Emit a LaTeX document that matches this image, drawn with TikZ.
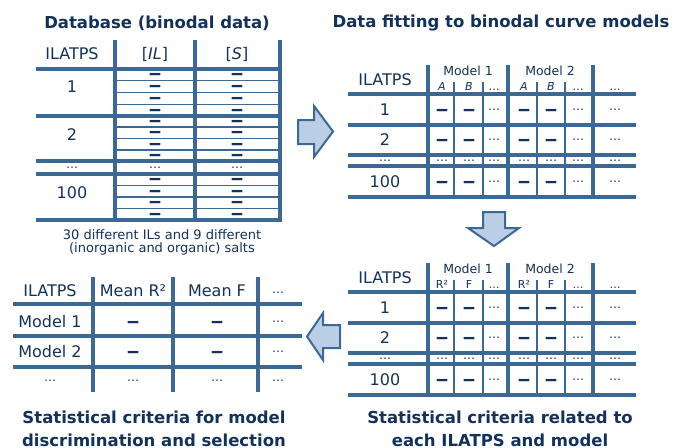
\documentclass[tikz,border=0pt]{standalone}
\usepackage{graphicx}
\usepackage{fontspec}
\setmainfont{DejaVu Sans}
\definecolor{lc}{RGB}{60,104,150}
\definecolor{tc}{RGB}{18,50,92}
\definecolor{af}{RGB}{186,207,230}
\newcommand{\dashmark}{\scalebox{1.5}[1]{–}}
\begin{document}
\begin{tikzpicture}[x=1pt,y=-1pt,
  thk/.style={line width=4pt, draw=lc},
  thn/.style={line width=1.2pt, draw=lc},
  txt/.style={text=tc, inner sep=0pt, font=\fontsize{16}{16}\selectfont},
  mdl/.style={text=tc, inner sep=0pt, font=\fontsize{12.5}{12.5}\selectfont},
  sub/.style={text=tc, inner sep=0pt, anchor=base, font=\fontsize{11}{11}\selectfont},
  ttl/.style={text=tc, inner sep=0pt, align=center, font=\bfseries\fontsize{16.5}{23}\selectfont},
  capt/.style={text=tc, inner sep=0pt, align=center, font=\fontsize{13}{13}\selectfont},
  dsh/.style={text=tc, inner sep=0pt, yshift=-2pt, font=\bfseries\fontsize{18}{18}\selectfont},
  dts/.style={text=tc, inner sep=0pt, font=\fontsize{12}{12}\selectfont},
  arr/.style={draw=lc, line width=2pt, fill=af, line join=miter}]
\useasboundingbox (0,0) rectangle (674,447);

% ---------- Table 1: database ----------
\node[ttl] (t1) at (157,23) {Database (binodal data)};
\foreach \x in {115,195,280} \draw[thk] (\x,40) -- (\x,222);
\foreach \y in {69,116,161,174,220} \draw[thk] (36,\y) -- (282,\y);
\foreach \y in {80.75,92.5,104.25,127,138.5,150,185.5,197,208.5} \draw[thn] (115,\y) -- (280,\y);
\node[txt] (d-h1) at (72,54) {ILATPS};
\node[txt] (d-h2) at (155,54) {[\textit{IL}]};
\node[txt] (d-h3) at (237,54) {[\textit{S}]};
\node[txt] (d-r1) at (72,87) {1};
\node[txt] (d-r2) at (72,135) {2};
\node[dts] (d-r3) at (72,167.5) {…};
\node[txt] (d-r4) at (72,193) {100};
\node[dts] (d-c3a) at (155,167.5) {…};
\node[dts] (d-c3b) at (237,167.5) {…};
\foreach \y [count=\i] in {74.9,86.6,98.4,110.1,121.5,132.75,144.25,155.5,179.75,191.25,202.75,214.25}{
  \node[dsh] (d-a\i) at (155,\y) {\dashmark};
  \node[dsh] (d-b\i) at (237,\y) {\dashmark};
}
\node[capt] (c1) at (162,242.5) {30 different ILs and 9 different\\[0pt](inorganic and organic) salts};

% ---------- Tables 2 and 3 ----------
\node[ttl] (t2) at (501,23) {Data fitting to binodal curve models};
\foreach \oy/\sa/\sb/\nm in {0/{\textit{A}}/{\textit{B}}/f, 198/{R²}/{F}/s}{
  \begin{scope}[yshift=-\oy pt]
  \foreach \x in {428,508,593} \draw[thk] (\x,65) -- (\x,199);
  \foreach \y in {94,125,155,166,197} \draw[thk] (348,\y) -- (636,\y);
  \foreach \x in {454,483,537,565} \draw[thn] (\x,82) -- (\x,197);
  \node[txt] (\nm-h) at (385,80) {ILATPS};
  \node[mdl] (\nm-m1) at (468,71) {Model 1};
  \node[mdl] (\nm-m2) at (550,71) {Model 2};
  \node[sub] (\nm-s1) at (442,90) {\sa};
  \node[sub] (\nm-s2) at (469,90) {\sb};
  \node[sub] (\nm-s3) at (494,90) {…};
  \node[sub] (\nm-s4) at (524,90) {\sa};
  \node[sub] (\nm-s5) at (551,90) {\sb};
  \node[sub] (\nm-s6) at (578,90) {…};
  \node[sub] (\nm-s7) at (615,90) {…};
  \foreach \y/\lab [count=\i] in {110/1,140/2,182/100}{
    \node[txt] (\nm-r\i) at (385,\y) {\lab};
    \node[dsh] (\nm-r\i a) at (442,\y) {\dashmark};
    \node[dsh] (\nm-r\i b) at (469,\y) {\dashmark};
    \node[dts] (\nm-r\i c) at (494,\y) {…};
    \node[dsh] (\nm-r\i d) at (524,\y) {\dashmark};
    \node[dsh] (\nm-r\i e) at (551,\y) {\dashmark};
    \node[dts] (\nm-r\i f) at (578,\y) {…};
    \node[dts] (\nm-r\i g) at (615,\y) {…};
  }
  \foreach \x [count=\i] in {385,442,469,494,524,551,578,615}
    \node[dts] (\nm-dd\i) at (\x,160.5) {…};
  \end{scope}
}
\node[ttl] (c3) at (500,428.5) {Statistical criteria related to\\each ILATPS and model};

% ---------- Table 4 ----------
\foreach \x in {93,173,258} \draw[thk] (\x,277) -- (\x,392);
\foreach \y in {304,336,367} \draw[thk] (13,\y) -- (302,\y);
\node[txt] (m-h1) at (50,291) {ILATPS};
\node[txt] (m-h2) at (133,291) {Mean R²};
\node[txt] (m-h3) at (217,291) {Mean F};
\node[dts] (m-h4) at (278,293) {…};
\foreach \y/\lab [count=\i] in {322/Model 1,352/Model 2}{
  \node[txt] (m-r\i) at (50,\y) {\lab};
  \node[dsh] (m-r\i a) at (133,\y) {\dashmark};
  \node[dsh] (m-r\i b) at (217,\y) {\dashmark};
  \node[dts] (m-r\i c) at (278,\y) {…};
}
\foreach \x [count=\i] in {50,133,217,278}
  \node[dts] (m-d\i) at (\x,381) {…};
\node[ttl] (c4) at (154,428.5) {Statistical criteria for model\\discrimination and selection};

% ---------- Block arrows ----------
\draw[arr] (298,120) -- (314,120) -- (314,106) -- (333,131.5) -- (314,157) -- (314,144) -- (298,144) -- cycle;
\draw[arr] (483,212) -- (505,212) -- (505,228) -- (519,228) -- (494,246) -- (468,228) -- (483,228) -- cycle;
\draw[arr] (340,325) -- (323,325) -- (323,313) -- (307,336.5) -- (323,360) -- (323,348) -- (340,348) -- cycle;
\end{tikzpicture}
\end{document}
